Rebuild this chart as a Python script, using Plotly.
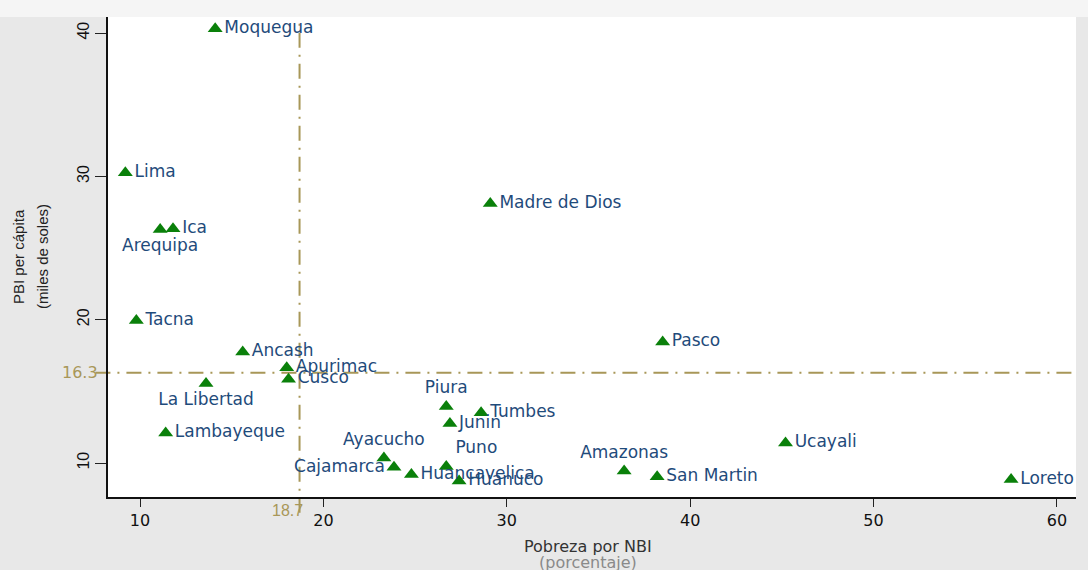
import plotly.graph_objects as go

# Data
regions = ["Moquegua", "Lima", "Arequipa", "Ica", "Tacna", "Ancash", "Apurimac",
           "Cusco", "La Libertad", "Lambayeque", "Madre de Dios", "Pasco", "Piura",
           "Tumbes", "Junin", "Ayacucho", "Cajamarca", "Huancavelica", "Puno",
           "Huanuco", "Amazonas", "San Martin", "Ucayali", "Loreto"]
pobreza_nbi = [14.1, 9.2, 11.1, 11.8, 9.8, 15.6, 18.0,
               18.1, 13.6, 11.4, 29.1, 38.5, 26.7,
               28.6, 26.9, 23.3, 23.85, 24.8, 26.7,
               27.4, 36.4, 38.2, 45.2, 57.5]
pbi_pc = [40.3, 30.25, 26.3, 26.35, 19.95, 17.75, 16.65,
          15.85, 15.55, 12.1, 28.1, 18.45, 13.95,
          13.5, 12.75, 10.35, 9.7, 9.2, 9.75,
          8.75, 9.45, 9.05, 11.4, 8.85]
label_pos = ["middle right", "middle right", "bottom center", "middle right", "middle right",
             "middle right", "middle right", "middle right", "bottom center", "middle right",
             "middle right", "middle right", "top center", "middle right", "middle right",
             "top center", "middle left", "middle right", "top right", "middle right",
             "top center", "middle right", "middle right", "middle right"]

media_pobreza = 18.7
media_pbi = 16.3
x_ticks = [10, 20, 30, 40, 50, 60]
y_ticks = [10, 20, 30, 40]

navy = "#1f4b7b"
green = "#0a800a"
khaki = "#a89758"

fig = go.Figure()
fig.add_trace(go.Scatter(
    x=pobreza_nbi, y=pbi_pc, text=regions, mode="markers+text",
    textposition=label_pos,
    marker=dict(symbol="triangle-up", size=13, color=green),
    textfont=dict(family="DejaVu Sans", size=17, color=navy),
    showlegend=False, cliponaxis=False,
))

line_style = dict(color=khaki, width=2, dash="15px,7px,2px,7px")
fig.add_shape(type="line", xref="x", yref="paper", x0=media_pobreza, x1=media_pobreza,
              y0=-0.033, y1=1, line=line_style, layer="below")
fig.add_shape(type="line", xref="paper", yref="y", x0=-0.013, x1=1, y0=media_pbi, y1=media_pbi,
              line=line_style, layer="below")

# top light band of background
fig.add_shape(type="rect", xref="paper", yref="paper", x0=-0.2, x1=1.2, y0=1.0, y1=1.05,
              fillcolor="#f5f5f5", line=dict(width=0), layer="below")

fig.add_annotation(x=media_pobreza, y=0, xref="x", yref="paper", text=f"{media_pobreza}",
                   showarrow=False, xanchor="right", yanchor="top", xshift=5, yshift=-3,
                   font=dict(family="Liberation Sans", size=16, color=khaki))
fig.add_annotation(x=0, y=media_pbi, xref="paper", yref="y", text=f"{media_pbi}",
                   showarrow=False, xanchor="right", yanchor="middle", xshift=-8,
                   font=dict(family="DejaVu Sans", size=16, color=khaki))

fig.add_annotation(x=0, y=0.5, xref="paper", yref="paper", text="PBI per cápita",
                   textangle=-90, showarrow=False, xanchor="center", yanchor="middle",
                   xshift=-90, font=dict(family="Liberation Sans", size=15, color="#222222"))
fig.add_annotation(x=0, y=0.5, xref="paper", yref="paper", text="(miles de soles)",
                   textangle=-90, showarrow=False, xanchor="center", yanchor="middle",
                   xshift=-66, font=dict(family="Liberation Sans", size=15, color="#222222"))
fig.add_annotation(x=0.5, y=0, xref="paper", yref="paper", text="Pobreza por NBI",
                   showarrow=False, xanchor="center", yanchor="middle",
                   yshift=-49, xshift=-4, font=dict(family="DejaVu Sans", size=16, color="#333333"))
fig.add_annotation(x=0.5, y=0, xref="paper", yref="paper", text="(porcentaje)",
                   showarrow=False, xanchor="center", yanchor="middle",
                   yshift=-65, xshift=-4, font=dict(family="DejaVu Sans", size=16, color="#8a8a8a"))

fig.update_xaxes(range=[8.255, 61.04], tickvals=x_ticks, ticks="outside", ticklen=8,
                 tickcolor="#222222", showgrid=False, zeroline=False, showline=True,
                 linecolor="#111111", linewidth=1.5, automargin=False,
                 tickfont=dict(family="DejaVu Sans", size=16, color="#111111"))
fig.update_yaxes(range=[7.63, 41.12], tickvals=y_ticks, ticks="outside", ticklen=11,
                 tickcolor="#222222", tickangle=-90, showgrid=False, zeroline=False,
                 showline=True, linecolor="#111111", linewidth=1.5, automargin=False,
                 tickfont=dict(family="Liberation Sans", size=16, color="#111111"))

fig.update_layout(
    width=1088, height=570,
    margin=dict(l=108, r=12, t=17, b=73, autoexpand=False),
    paper_bgcolor="#e8e8e8", plot_bgcolor="#ffffff",
)

fig.write_html("out.html", config={"displayModeBar": False},
               post_script="document.body.style.margin='0px';document.body.style.overflow='hidden';")
